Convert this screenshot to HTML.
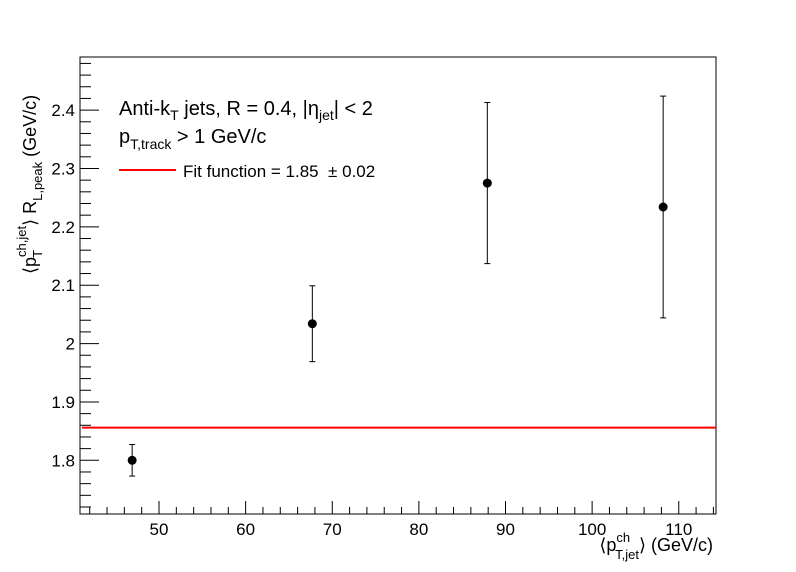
<!DOCTYPE html>
<html><head><meta charset="utf-8"><style>
body{margin:0;background:#fff}
svg{display:block;font-family:"Liberation Sans",Arial,sans-serif}
</style></head><body>
<svg id="chart" width="796" height="572" xmlns="http://www.w3.org/2000/svg">
<rect x="0" y="0" width="796" height="572" fill="#fff"/>
<g id="axes"></g>
<g id="marks"></g>
<text x="119" y="115" font-size="20">Anti-k<tspan font-size="14" dy="5">T</tspan><tspan dy="-5"> jets, R = 0.4, |η</tspan><tspan font-size="14" dy="5">jet</tspan><tspan dy="-5">| &lt; 2</tspan></text>
<text x="119" y="143" font-size="20">p<tspan font-size="14" dy="6">T,track</tspan><tspan dy="-6"> &gt; 1 GeV/c</tspan></text>
<line x1="119" y1="170" x2="176" y2="170" stroke="#f00" stroke-width="2"/>
<text x="183" y="177" font-size="17">Fit function = 1.85 &#160;± 0.02</text>
<text x="713" y="551" font-size="18" text-anchor="end">⟨p<tspan font-size="13" dy="-9">ch</tspan><tspan font-size="13" dx="-15" dy="17">T,jet</tspan><tspan dy="-8">⟩ (GeV/c)</tspan></text>
<text transform="translate(36,274) rotate(-90)" font-size="18">⟨p<tspan font-size="13" dy="-10">ch,jet</tspan><tspan font-size="13" dx="-32" dy="16">T</tspan><tspan dx="24" dy="-6">⟩ R</tspan><tspan font-size="13" dy="6">L,peak</tspan><tspan dy="-6"> (GeV/c)</tspan></text>
</svg>
<script>
const xValues=[46.9,67.7,87.9,108.2];
const yValues=[1.800,2.034,2.275,2.234];
const yErrors=[0.027,0.065,0.138,0.19];
const fitValue=[1.856];
const xTickLabels=[50,60,70,80,90,100,110];
const yTickLabels=[1.8,1.9,2,2.1,2.2,2.3,2.4];
const X0=80,X1=716,Y0=514,Y1=57;
const xmin=40.88,xmax=114.3,ymin=1.708,ymax=2.491;
const sx=v=>X0+(v-xmin)/(xmax-xmin)*(X1-X0);
const sy=v=>Y0-(v-ymin)/(ymax-ymin)*(Y0-Y1);
const NS='http://www.w3.org/2000/svg';
function mk(tag,attrs,parent){const e=document.createElementNS(NS,tag);for(const k in attrs)e.setAttribute(k,attrs[k]);parent.appendChild(e);return e;}
const ax=document.getElementById('axes'),mk2=document.getElementById('marks');
const fr=mk('rect',{x:X0,y:Y1,width:X1-X0,height:Y0-Y1,fill:'none',stroke:'#000','stroke-width':1},ax);


for(let v=42;v<=114;v+=2){const x=sx(v);const maj=v%10===0;
 const t=mk('line',{x1:x,y1:Y0,x2:x,y2:Y0-(maj?13:7),stroke:'#000'},ax);
 
 }
xTickLabels.forEach(v=>{const t=mk('text',{x:sx(v),y:Y0+21,'font-size':17,'text-anchor':'middle'},ax);t.textContent=v;
 
 });
for(let i=0;;i++){const v=1.72+i*0.02;if(v>2.49)break;const y=sy(v);const maj=Math.round(v*100)%10===0;
 const t=mk('line',{x1:X0,y1:y,x2:X0+(maj?19:11),y2:y,stroke:'#000'},ax);
 
 }
yTickLabels.forEach(v=>{const t=mk('text',{x:X0-5,y:sy(v)+6,'font-size':17,'text-anchor':'end'},ax);t.textContent=v;
 
 });
const fl=mk('line',{x1:X0+2,y1:sy(fitValue[0]),x2:X1,y2:sy(fitValue[0]),stroke:'#f00','stroke-width':2},mk2);


xValues.forEach((xv,i)=>{const x=sx(xv),y=sy(yValues[i]),yt=sy(yValues[i]+yErrors[i]),yb=sy(yValues[i]-yErrors[i]);
 const g=mk('g',{},mk2);
 
 
 mk('line',{x1:x,y1:yt,x2:x,y2:yb,stroke:'#000'},g);
 mk('line',{x1:x-3,y1:yt,x2:x+3,y2:yt,stroke:'#000'},g);
 mk('line',{x1:x-3,y1:yb,x2:x+3,y2:yb,stroke:'#000'},g);
 mk('circle',{cx:x,cy:y,r:4.5,fill:'#000'},g);});
</script>
</body></html>
